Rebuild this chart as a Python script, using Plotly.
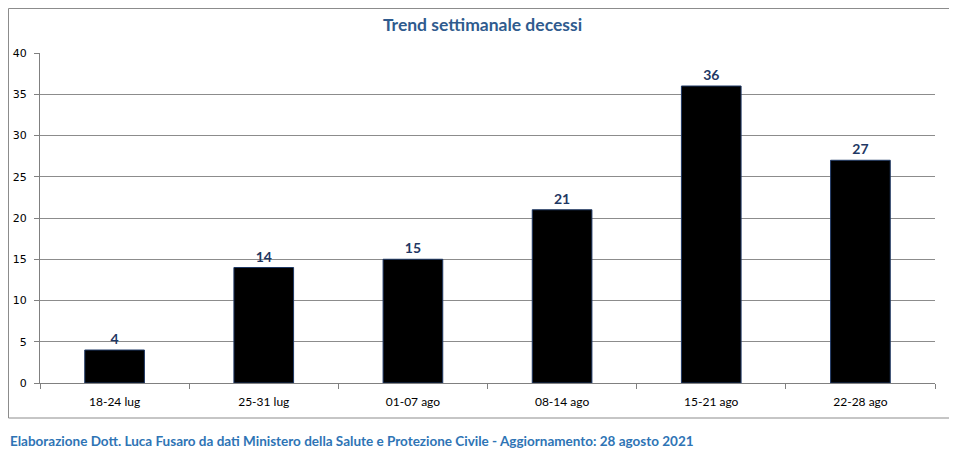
import plotly.graph_objects as go

settimane = ["18-24 lug", "25-31 lug", "01-07 ago", "08-14 ago", "15-21 ago", "22-28 ago"]
decessi = [4, 14, 15, 21, 36, 27]

# the page body has an 8px margin, so the figure is drawn 8px in from the corner
OFF = 8
W, H = 957 - OFF, 455 - OFF
L, T = 40 - OFF, 53 - OFF
R = W - (935 - OFF)
B = H - (383 - OFF)
pw, ph = W - L - R, H - T - B


def px_x(x):
    return (x - OFF - L) / pw


def px_y(y):
    return (H - B - (y - OFF)) / ph


fig = go.Figure(go.Bar(
    x=settimane, y=decessi,
    marker=dict(color="black", line=dict(color="#1F3864", width=1)),
    width=0.4,
    text=decessi, textposition="outside",
    textfont=dict(family="Lato", size=14, color="#1F3864", weight="bold"),
    cliponaxis=False,
))

fig.update_layout(
    width=W, height=H,
    margin=dict(l=L, r=R, t=T, b=B, autoexpand=False),
    plot_bgcolor="white", paper_bgcolor="white",
    showlegend=False,
    font=dict(family="DejaVu Sans", size=11, color="black"),
    title=dict(text="<b>Trend settimanale decessi</b>", x=0.5, xanchor="center",
               y=1 - (25 - OFF) / H, yanchor="middle",
               font=dict(family="Lato", size=17.5, color="#2F5B8E")),
    shapes=[dict(type="rect", xref="paper", yref="paper",
                 x0=px_x(8.5), x1=px_x(950), y0=px_y(418), y1=px_y(8.5),
                 line=dict(color="#8C8C8C", width=1), fillcolor="rgba(0,0,0,0)")],
    annotations=[dict(
        text="<b>Elaborazione Dott. Luca Fusaro da dati Ministero della Salute e Protezione Civile - Aggiornamento: 28 agosto 2021</b>",
        xref="paper", yref="paper", x=px_x(8), y=px_y(441),
        xanchor="left", yanchor="middle", showarrow=False,
        font=dict(family="Lato", size=13.5, color="#2E74B5"))],
)

fig.update_xaxes(
    automargin=False,
    showline=True, linecolor="#808080", linewidth=1,
    ticks="outside", tickson="boundaries", ticklen=5, tickcolor="#808080",
    ticklabelstandoff=8,
    tickfont=dict(family="Lato", size=12),
)
fig.update_yaxes(
    automargin=False,
    range=[0, 40], dtick=5, showgrid=True, gridcolor="#8C8C8C", gridwidth=1,
    showline=True, linecolor="#808080", linewidth=1,
    ticks="outside", ticklen=5, tickcolor="#808080", zeroline=False,
    ticklabelstandoff=5,
    tickfont=dict(family="DejaVu Sans", size=11),
)

fig.write_html("out.html")
